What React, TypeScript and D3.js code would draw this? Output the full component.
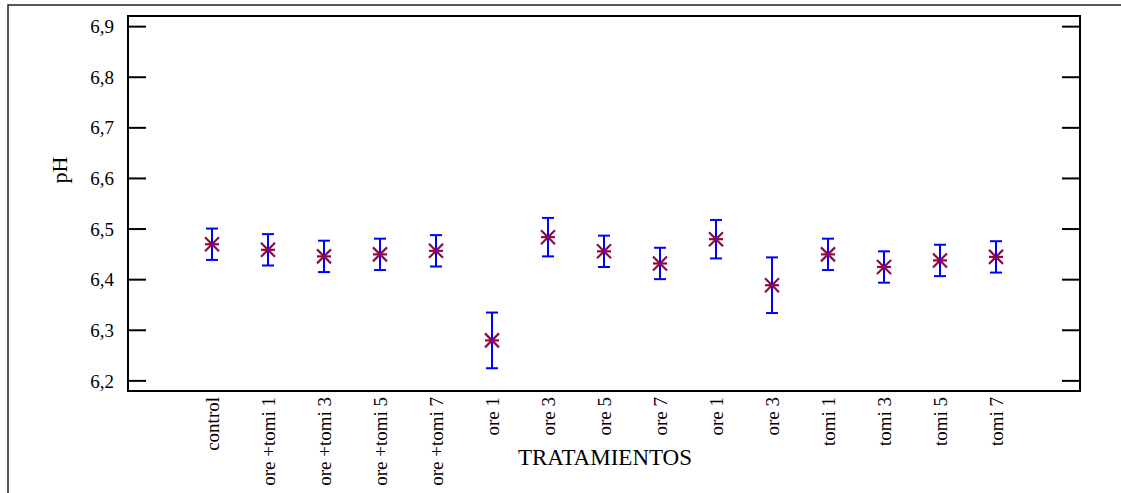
import * as d3 from 'd3';
import React from 'react';

// treatment names (as printed on the x axis)
const categories = [
  'control', 'ore +tomi 1', 'ore +tomi 3', 'ore +tomi 5', 'ore +tomi 7',
  'ore 1', 'ore 3', 'ore 5', 'ore 7', 'ore 1', 'ore 3',
  'tomi 1', 'tomi 3', 'tomi 5', 'tomi 7',
];
// mean pH per treatment
const means = [6.47, 6.459, 6.446, 6.45, 6.457, 6.28, 6.484, 6.456, 6.432, 6.48, 6.389, 6.45, 6.425, 6.438, 6.445];
// half-width of the interval
const halfWidths = [0.031, 0.031, 0.031, 0.031, 0.031, 0.055, 0.038, 0.031, 0.031, 0.038, 0.055, 0.031, 0.031, 0.031, 0.031];
const yTicks = [6.2, 6.3, 6.4, 6.5, 6.6, 6.7, 6.8, 6.9];

const W = 1121;
const H = 493;
const plot = { left: 128, top: 16, right: 1080, bottom: 391 };
const font = '"Liberation Serif", "Times New Roman", serif';

export default function App() {
  const x = d3.scalePoint<number>()
    .domain(categories.map((_, i) => i))
    .range([plot.left, plot.right])
    .padding(1.5);
  const y = d3.scaleLinear().domain([6.18, 6.921]).range([plot.bottom, plot.top]);
  const fmt = (v: number) => d3.format('.1f')(v).replace('.', ',');
  const tickLen = 18;
  const s = 7;

  return (
    <svg width={W} height={H} style={{ position: 'absolute', left: 0, top: 0, background: '#fff' }}>
      <rect x={8} y={5} width={W} height={H} fill="none" stroke="#222" strokeWidth={1.5} />
      <rect x={plot.left} y={plot.top} width={plot.right - plot.left} height={plot.bottom - plot.top}
        fill="none" stroke="#000" strokeWidth={2} />
      {yTicks.map(t => (
        <g key={t}>
          <line x1={plot.left} x2={plot.left + tickLen} y1={y(t)} y2={y(t)} stroke="#000" strokeWidth={2} />
          <line x1={plot.right} x2={plot.right - tickLen} y1={y(t)} y2={y(t)} stroke="#000" strokeWidth={2} />
          <text x={114} y={y(t)} dy="0.35em" textAnchor="end" fontFamily={font} fontSize={19}>{fmt(t)}</text>
        </g>
      ))}
      <text transform="translate(67,170) rotate(-90)" textAnchor="middle" fontFamily={font} fontSize={22}>pH</text>
      {categories.map((c, i) => (
        <text key={i} transform={`translate(${x(i)! + 7},${plot.bottom + 6}) rotate(-90)`}
          textAnchor="end" fontFamily={font} fontSize={19}>{c}</text>
      ))}
      <text x={605} y={465} textAnchor="middle" fontFamily={font} fontSize={23}>TRATAMIENTOS</text>
      {means.map((m, i) => {
        const cx = x(i)!;
        const cy = y(m);
        const lo = y(m - halfWidths[i]);
        const hi = y(m + halfWidths[i]);
        return (
          <g key={i}>
            <line x1={cx} x2={cx} y1={hi} y2={lo} stroke="#0000ff" strokeWidth={2} />
            <line x1={cx - 6} x2={cx + 6} y1={hi} y2={hi} stroke="#0000ff" strokeWidth={2} />
            <line x1={cx - 6} x2={cx + 6} y1={lo} y2={lo} stroke="#0000ff" strokeWidth={2} />
            <g stroke="#8b0a48" strokeWidth={2.2}>
              <line x1={cx - s} x2={cx + s} y1={cy - s} y2={cy + s} />
              <line x1={cx - s} x2={cx + s} y1={cy + s} y2={cy - s} />
              <line x1={cx - s} x2={cx + s} y1={cy} y2={cy} />
            </g>
          </g>
        );
      })}
    </svg>
  );
}
